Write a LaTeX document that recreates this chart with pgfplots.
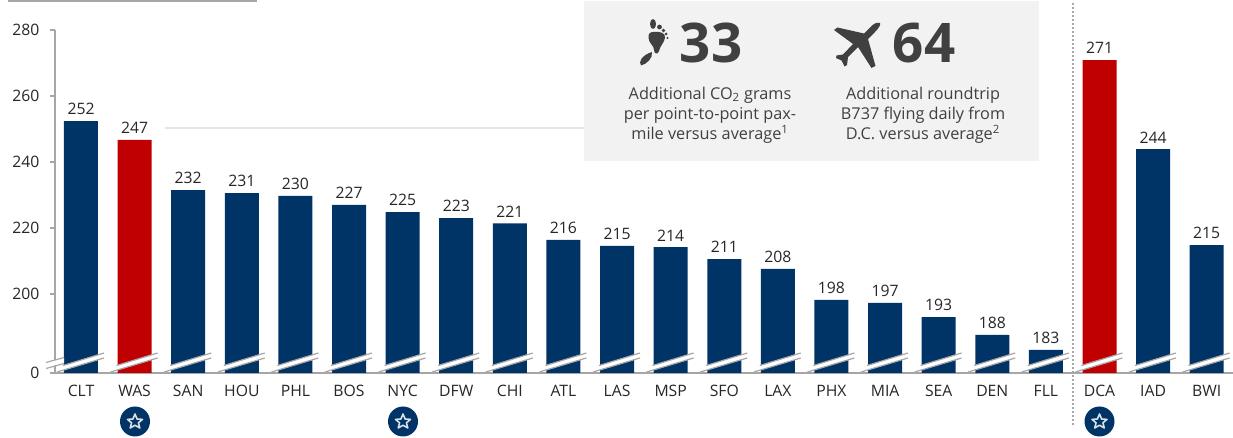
\documentclass[border=0pt]{standalone}
\usepackage{fontspec}
\setmainfont{Open Sans}
\usepackage{pgfplots}
\pgfplotsset{compat=1.18}
\usepackage{pgfplotstable}
\definecolor{navy}{HTML}{003366}
\definecolor{redbar}{HTML}{C00000}
\definecolor{axisgray}{HTML}{A6A6A6}
\definecolor{boxgray}{HTML}{F2F2F2}
\definecolor{txt}{HTML}{404040}
\definecolor{lab}{HTML}{262626}
\pgfplotstableread{
x y
0 252.4
2 231.5
3 230.6
4 229.7
5 227.0
6 224.8
7 223.0
8 221.4
9 216.4
10 214.6
11 214.2
12 210.6
13 207.6
14 198.2
15 197.3
16 193.0
17 187.6
18 183.1
20 243.9
21 214.8
}\blue
\pgfplotstableread{
x y
1 246.7
19 270.9
}\red
\begin{document}
\begin{tikzpicture}[x=0.75pt,y=-0.75pt]
\useasboundingbox (0,0) rectangle (1233,438);
\begin{axis}[
  at={(41.25pt,-279.75pt)}, anchor=south west,
  scale only axis, width=883.5pt, height=257.25pt,
  xmin=-0.485, xmax=21.49, ymin=176.06, ymax=280,
  axis x line=bottom, axis y line=left,
  axis line style={draw=axisgray,line width=1.1pt,-},
  tick style={draw=axisgray,line width=0.9pt},
  ytick={176.06,200,220,240,260,280},
  yticklabels={0,200,220,240,260,280},
  xtick={0,...,21},
  xticklabels={CLT,WAS,SAN,HOU,PHL,BOS,NYC,DFW,CHI,ATL,LAS,MSP,SFO,LAX,PHX,MIA,SEA,DEN,FLL,DCA,IAD,BWI},
  x tick style={draw=none},
  tick align=outside, major tick length=3.75pt,
  tick label style={font=\fontsize{11.8pt}{13pt}\selectfont,text=lab},
  xticklabel style={yshift=-1.6pt},
  yticklabel style={xshift=-4.5pt},
  /pgf/number format/assume math mode=true,
  /pgf/number format/fixed, /pgf/number format/precision=0,
  ybar, bar width=25.5pt, bar shift=0pt,
  nodes near coords,
  every node near coord/.append style={font=\fontsize{11.8pt}{13pt}\selectfont,text=lab,yshift=1pt},
  clip=false,
]
\addplot[fill=navy,draw=none] table[x=x,y=y]{\blue};
\addplot[fill=redbar,draw=none] table[x=x,y=y]{\red};
\end{axis}
% axis break marks
\fill[white] (45,363) -- (64,357.5) -- (64,363) -- (45,368.5) -- cycle;
\draw[axisgray,line width=0.9pt] (46,362.5) -- (64,357.5) (46,368.5) -- (64,363.5);
\foreach \c in {81,134.6,188.2,241.8,295.4,349,402.6,456.2,509.8,563.4,617,670.6,724.2,777.8,831.4,885,938.6,992.2,1045.8,1099.4,1153,1206.6}{
  \fill[white] ({\c-21},366.5) -- ({\c+23},353) -- ({\c+23},358) -- ({\c-24},372.2) -- cycle;
  \draw[axisgray,line width=0.9pt] ({\c-18},365.5) -- ({\c+23},353);
  \draw[axisgray,line width=0.9pt] ({\c-24},372) -- ({\c+23},358);
}
% decorations
\draw[axisgray,line width=1.5pt] (8,1.2) -- (257,1.2);
\draw[black!10,line width=2pt] (165,128) -- (585,128);
\fill[boxgray] (584,1) rectangle (1039,161);
\draw[axisgray,line width=0.8pt,dash pattern=on 1.5pt off 1.5pt] (1073,3) -- (1073,425);
% stars
\foreach \c in {135,403,1099.5}{
  \fill[navy] (\c,421.5) circle (15);
  \draw[white!85!navy,line width=1.2pt,line join=round]
    (\c,414) -- ({\c+2.1},419) -- ({\c+7.5},419.4) -- ({\c+3.4},422.8) -- ({\c+4.8},428)
    -- (\c,425.2) -- ({\c-4.8},428) -- ({\c-3.4},422.8) -- ({\c-7.5},419.4) -- ({\c-2.1},419) -- cycle;
}
% big numbers
\node[text=txt,font=\fontsize{41pt}{41pt}\selectfont\bfseries,anchor=center] at (711,43) {33};
\node[text=txt,font=\fontsize{41pt}{41pt}\selectfont\bfseries,anchor=center] at (924,43) {64};
% box text
\node[text=txt,font=\fontsize{12.2pt}{15pt}\selectfont,align=center,anchor=center] at (710,115) {Additional CO\textsubscript{2} grams\\per point-to-point pax-\\mile versus average\textsuperscript{1}};
\node[text=txt,font=\fontsize{12.2pt}{15pt}\selectfont,align=center,anchor=center] at (923,115) {Additional roundtrip\\B737 flying daily from\\D.C. versus average\textsuperscript{2}};
% foot icon
\fill[txt] (653,32) .. controls (660,31) and (666,33) .. (665,38) .. controls (664,43) and (660,46) .. (659,51)
  .. controls (658,55) and (654,54) .. (654,50) .. controls (654,45) and (649,44) .. (648.5,38) .. controls (648,34) and (650,32) .. (653,32) -- cycle;
\fill[txt] (653,24) ellipse (3 and 5);
\fill[txt] (659.5,27) circle (2.4);
\fill[txt] (663.5,30.5) circle (1.9);
\fill[txt] (666,34) circle (1.5);
\fill[txt] (667.5,38) circle (1.1);
\fill[txt] (652,52) .. controls (653,58) and (647,64) .. (641,65.5) .. controls (638,62) and (642,55) .. (652,52) -- cycle;
% plane icon
\fill[txt,line join=round] (880,23) .. controls (881,25) and (878,29) .. (875,32) -- (868,39) -- (875.5,66) -- (871.5,68) -- (858,47) -- (848,57) -- (847,65) -- (844.5,66.5) -- (841.5,60.5) -- (836,58) -- (836.5,55.5) -- (843,54.5) -- (853,44) -- (834,30) -- (837.5,27.5) -- (864,33.5) -- (872,25.5) .. controls (875,23) and (878,22) .. (880,23) -- cycle;
\end{tikzpicture}
\end{document}
